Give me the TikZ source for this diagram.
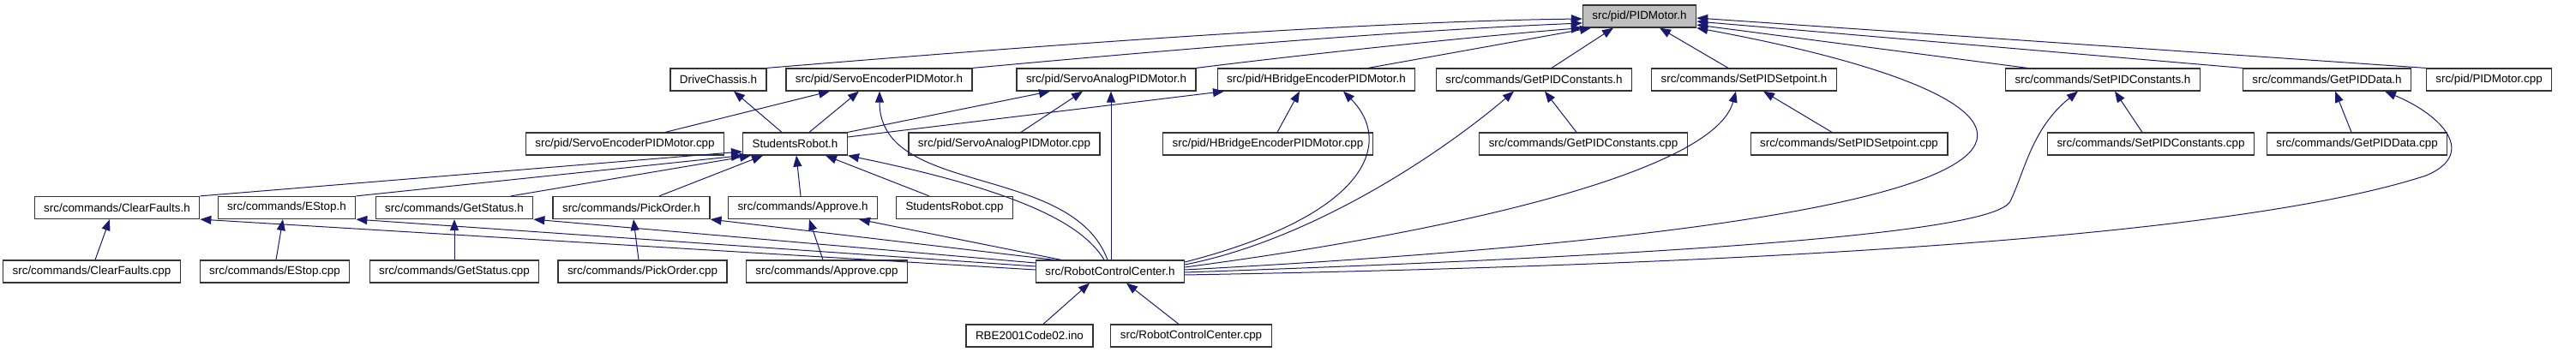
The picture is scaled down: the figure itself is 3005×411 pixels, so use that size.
\documentclass[tikz,border=0pt]{standalone}
\usepackage{fontspec}
\setmainfont{Liberation Sans}
\usetikzlibrary{arrows.meta}

\definecolor{edgeblue}{HTML}{191970}
\definecolor{focusgray}{HTML}{BFBFBF}
\definecolor{boxline}{HTML}{333333}

\tikzset{
  file/.style={draw=boxline, line width=0.6pt, fill=white, minimum height=13pt,
    inner xsep=5.5pt, inner ysep=0pt, font=\fontsize{6.7pt}{8pt}\selectfont},
  focus/.style={file, fill=focusgray},
  incl/.style={edgeblue, line width=0.5pt, -{Triangle[length=6.5pt,width=5pt]}},
}

\begin{document}
\begin{tikzpicture}[x=0.5pt, y=-0.5pt]
\useasboundingbox (0,0) rectangle (3005,411);

% Row 1
\node[focus] (pidh) at (1912.5,19) {src/pid/PIDMotor.h};

% Row 2
\node[file] (drive)  at (838,93)    {DriveChassis.h};
\node[file] (sench)  at (1025.5,93) {src/pid/ServoEncoderPIDMotor.h};
\node[file] (sanah)  at (1290.5,93) {src/pid/ServoAnalogPIDMotor.h};
\node[file] (hbh)    at (1535.5,93) {src/pid/HBridgeEncoderPIDMotor.h};
\node[file] (gpch)   at (1789.5,93) {src/commands/GetPIDConstants.h};
\node[file] (spsh)   at (2034.5,93) {src/commands/SetPIDSetpoint.h};
\node[file] (spch)   at (2453,93)   {src/commands/SetPIDConstants.h};
\node[file] (gpdh)   at (2714.5,93) {src/commands/GetPIDData.h};
\node[file] (pidcpp) at (2903.5,93) {src/pid/PIDMotor.cpp};

% Row 3
\node[file] (sencpp)  at (729,168)    {src/pid/ServoEncoderPIDMotor.cpp};
\node[file] (robh)    at (927.5,168)  {StudentsRobot.h};
\node[file] (sanacpp) at (1171.5,168) {src/pid/ServoAnalogPIDMotor.cpp};
\node[file] (hbcpp)   at (1479,168)   {src/pid/HBridgeEncoderPIDMotor.cpp};
\node[file] (gpccpp)  at (1847,168)   {src/commands/GetPIDConstants.cpp};
\node[file] (spscpp)  at (2157,168)   {src/commands/SetPIDSetpoint.cpp};
\node[file] (spccpp)  at (2509,168)   {src/commands/SetPIDConstants.cpp};
\node[file] (gpdcpp)  at (2749.5,168) {src/commands/GetPIDData.cpp};

% Row 4
\node[file] (cfh)    at (136.5,242.5)  {src/commands/ClearFaults.h};
\node[file] (esh)    at (334.5,242.5)  {src/commands/EStop.h};
\node[file] (gsh)    at (530,242.5)    {src/commands/GetStatus.h};
\node[file] (poh)    at (736.5,242.5)  {src/commands/PickOrder.h};
\node[file] (aph)    at (936.5,242.5)  {src/commands/Approve.h};
\node[file] (robcpp) at (1113.5,242.5) {StudentsRobot.cpp};

% Row 5
\node[file] (cfcpp) at (107,317)   {src/commands/ClearFaults.cpp};
\node[file] (escpp) at (320.5,317) {src/commands/EStop.cpp};
\node[file] (gscpp) at (530,317)   {src/commands/GetStatus.cpp};
\node[file] (pocpp) at (749.5,317) {src/commands/PickOrder.cpp};
\node[file] (apcpp) at (964.5,317) {src/commands/Approve.cpp};
\node[file] (rcch)  at (1295,317)  {src/RobotControlCenter.h};

% Row 6
\node[file] (ino)    at (1201,392)   {RBE2001Code02.ino};
\node[file] (rcccpp) at (1389.5,392) {src/RobotControlCenter.cpp};

% Included by PIDMotor.h
\draw[incl] (drive.north east) .. controls (1250,50) and (1600,25) .. (pidh.west |- 0,22);
\draw[incl] (sench.north east) .. controls (1400,55) and (1650,35) .. (pidh.west |- 0,27);
\draw[incl] (sanah.north east) .. controls (1550,60) and (1750,40) .. (pidh.south west);
\draw[incl] (hbh.north -| 1596,0) -- (pidh.south -| 1856,0);
\draw[incl] (gpch.north -| 1810,0) -- (pidh.south -| 1882,0);
\draw[incl] (spsh.north -| 2016,0) -- (pidh.south -| 1936,0);
\draw[incl] (spch.north -| 2365,0) -- (pidh.east |- 0,29);
\draw[incl] (gpdh.north west) -- (pidh.east |- 0,25);
\draw[incl] (pidcpp.north west) -- (pidh.east |- 0,21);

% Row 3 up to row 2
\draw[incl] (sencpp.north -| 776,0) -- (sench.south -| 968,0);
\draw[incl] (robh.north -| 944,0) -- (sench.south -| 1002,0);
\draw[incl] (robh.north -| 912,0) -- (drive.south -| 856,0);
\draw[incl] (robh.north east) -- (sanah.south -| 1225,0);
\draw[incl] (robh.east |- 0,160) -- (hbh.south -| 1428,0);
\draw[incl] (sanacpp.north -| 1191,0) -- (sanah.south -| 1263,0);
\draw[incl] (hbcpp.north -| 1490,0) -- (hbh.south -| 1516,0);
\draw[incl] (gpccpp.north -| 1839,0) -- (gpch.south -| 1802,0);
\draw[incl] (spscpp.north -| 2137,0) -- (spsh.south -| 2057,0);
\draw[incl] (spccpp.north -| 2499,0) -- (spch.south -| 2467,0);
\draw[incl] (gpdcpp.north -| 2743,0) -- (gpdh.south -| 2724,0);

% Row 4 up to StudentsRobot.h
\draw[incl] (cfh.north east) -- (robh.west |- 0,177);
\draw[incl] (esh.north east) -- (robh.south west);
\draw[incl] (gsh.north -| 596,0) -- (robh.south -| 876,0);
\draw[incl] (poh.north -| 769,0) -- (robh.south -| 890,0);
\draw[incl] (aph.north -| 934,0) -- (robh.south -| 929,0);
\draw[incl] (robcpp.north -| 1084,0) -- (robh.south -| 963,0);

% RobotControlCenter.h includes
\draw[incl] (rcch.north -| 1288,0) .. controls (1265,265) and (1200,225) .. (robh.south east);
\draw[incl] (rcch.north -| 1292,0) .. controls (1250,190) and (1026,230) .. (sench.south -| 1026,0);
\draw[incl] (rcch.north -| 1296,0) -- (sanah.south -| 1296,0);
\draw[incl] (rcch.east |- 0,306) .. controls (1600,250) and (1625,165) .. (hbh.south -| 1567,0);
\draw[incl] (rcch.east |- 0,309) .. controls (1530,280) and (1680,180) .. (gpch.south -| 1766,0);
\draw[incl] (rcch.east |- 0,312) .. controls (1700,270) and (2000,200) .. (spsh.south -| 2025,0);
\draw[incl] (rcch.east |- 0,315) .. controls (2600,250) and (2400,110) .. (pidh.south east);
\draw[incl] (rcch.east |- 0,318) .. controls (1900,300) and (2325,275) .. (2345,235)
  .. controls (2362,200) and (2370,150) .. (spch.south -| 2424,0);
\draw[incl] (rcch.east |- 0,321) .. controls (2000,310) and (2600,280) .. (2830,205)
  .. controls (2890,180) and (2850,135) .. (gpdh.south -| 2782,0);
\draw[incl] (rcch.west |- 0,315) -- (cfh.south east);
\draw[incl] (rcch.west |- 0,311) -- (esh.south east);
\draw[incl] (rcch.west |- 0,307) -- (gsh.south east);
\draw[incl] (rcch.north -| 1230,0) -- (poh.south east);
\draw[incl] (rcch.north -| 1238,0) -- (aph.south -| 1002,0);

% Row 5 up to row 4
\draw[incl] (cfcpp.north -| 111,0) -- (cfh.south -| 128,0);
\draw[incl] (escpp.north -| 322,0) -- (esh.south -| 330,0);
\draw[incl] (gscpp) -- (gsh);
\draw[incl] (pocpp.north -| 745,0) -- (poh.south -| 739,0);
\draw[incl] (apcpp.north -| 960,0) -- (aph.south -| 944,0);

% Row 6 up to RobotControlCenter.h
\draw[incl] (ino.north -| 1217,0) -- (rcch.south -| 1271,0);
\draw[incl] (rcccpp.north -| 1375,0) -- (rcch.south -| 1314,0);
\end{tikzpicture}
\end{document}
